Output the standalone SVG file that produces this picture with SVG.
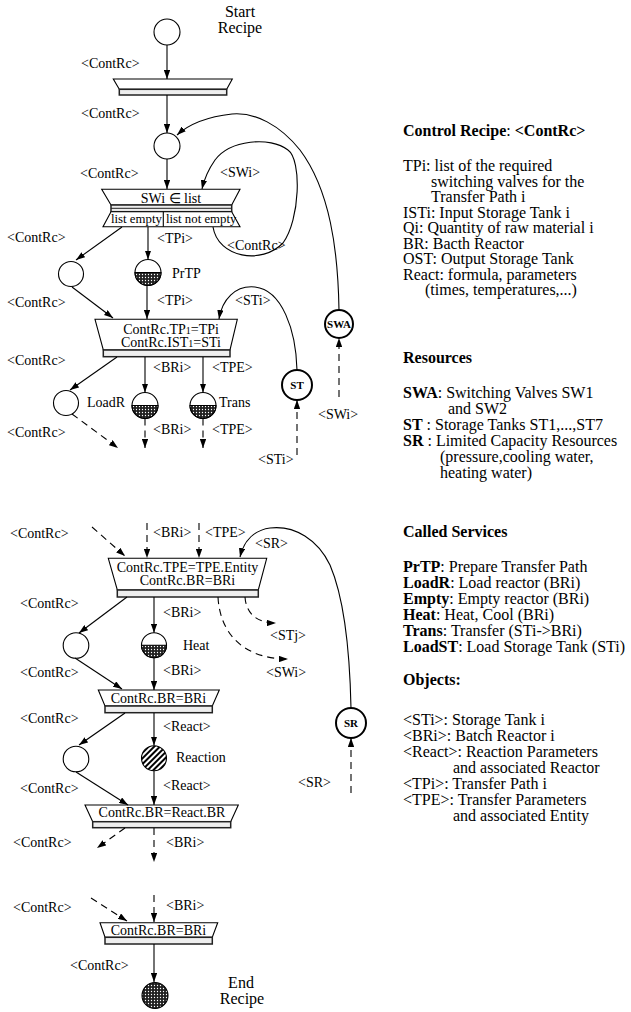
<svg xmlns="http://www.w3.org/2000/svg" width="631" height="1012" viewBox="0 0 631 1012">
<defs>
<style>
text{font-family:"Liberation Serif","Times New Roman",serif;font-size:14px;fill:#000}
.r{font-size:16px}
.big{font-size:16px}
.b{font-weight:bold}
.rs{font-size:11px;font-weight:bold;text-anchor:middle}
.m{text-anchor:middle}
.c{fill:#fff;stroke:#000;stroke-width:1.1}
.res{fill:#fff;stroke:#000;stroke-width:2}
.box{fill:#fff;stroke:#000;stroke-width:1.1}
.bar{fill:#eee;stroke:#222;stroke-width:1.5}
.ln{fill:none;stroke:#000;stroke-width:1.1;marker-end:url(#ah)}
.d{stroke-dasharray:7 5}
.hx{fill:url(#xh);stroke:#000;stroke-width:1.1}
</style>
<marker id="ah" viewBox="0 0 10 7" refX="10" refY="3.5" markerWidth="9" markerHeight="6.3" markerUnits="userSpaceOnUse" orient="auto"><path d="M0,0 L10,3.5 L0,7 z" fill="#000"/></marker>
<pattern id="xh" width="3" height="3" patternUnits="userSpaceOnUse"><rect width="3" height="3" fill="#222"/><circle cx="1.5" cy="1.5" r="0.65" fill="#fff"/></pattern>
<pattern id="dh" width="4" height="4" patternUnits="userSpaceOnUse" patternTransform="rotate(45)"><rect width="4" height="4" fill="#fff"/><rect width="2" height="4" fill="#000"/></pattern>
</defs>

<!-- Nodes -->
<g id="start"><circle class="c" cx="167" cy="32" r="13"/><text class="big m" x="240" y="17">Start</text><text class="big m" x="240" y="33">Recipe</text></g>
<g id="t1"><polygon class="box" points="113.3,79 232.3,79 226.7,89.3 119.3,89.3"/><rect class="bar" x="119.3" y="89.3" width="107.4" height="5.7"/></g>
<g id="c2"><circle class="c" cx="167" cy="146" r="13"/></g>
<g id="swi">
<polygon class="box" points="101.7,189.3 240,189.3 231.7,205 111,205"/>
<rect class="bar" x="111" y="205" width="120.7" height="6.7"/>
<line x1="111" y1="208.3" x2="231.7" y2="208.3" stroke="#222" stroke-width="1"/>
<polygon class="box" points="111,211.7 231.7,211.7 240,226.7 103,226.7"/>
<line x1="163.3" y1="211.7" x2="163.3" y2="226.7" stroke="#000" stroke-width="1.1"/>
<text class="m" x="171" y="203">SWi ∈ list</text>
<text x="111" y="223" style="font-size:12.8px">list empty</text>
<text x="166" y="223" style="font-size:12.8px">list not empty</text>
</g>
<g id="cL1"><circle class="c" cx="71" cy="274" r="12.5"/></g>
<g id="prtp"><circle class="c" cx="148" cy="272.5" r="13"/><path class="hx" d="M135,272.5 A13,13 0 0 0 161,272.5 Z"/><text x="172" y="278">PrTP</text></g>
<g id="b2"><polygon class="box" points="95,319.3 237.3,319.3 230,350 103.3,350"/><rect class="bar" x="103.3" y="350" width="126.7" height="6.7"/>
<text class="m" x="171" y="334">ContRc.TP<tspan style="font-size:10px">1</tspan>=TPi</text>
<text class="m" x="171" y="347">ContRc.IST<tspan style="font-size:10px">1</tspan>=STi</text></g>
<g id="cLoad"><circle class="c" cx="66" cy="403" r="12.5"/><text x="87" y="407">LoadR</text></g>
<g id="loadr"><circle class="c" cx="145" cy="405.5" r="13"/><path class="hx" d="M132,405.5 A13,13 0 0 0 158,405.5 Z"/></g>
<g id="trans"><circle class="c" cx="203" cy="405.5" r="13"/><path class="hx" d="M190,405.5 A13,13 0 0 0 216,405.5 Z"/><text x="219" y="407">Trans</text></g>
<g id="ST"><circle class="res" cx="297" cy="385" r="15"/><text class="rs" x="297" y="389">ST</text></g>
<g id="SWA"><circle class="res" cx="339" cy="324" r="14"/><text class="rs" x="339" y="328">SWA</text></g>

<g id="b3"><polygon class="box" points="108.3,558.3 266.7,558.3 258.3,590 117.3,590"/><rect class="bar" x="117.3" y="590" width="141" height="7"/>
<text class="m" x="187.5" y="572">ContRc.TPE=TPE.Entity</text><text class="m" x="187.5" y="585">ContRc.BR=BRi</text></g>
<g id="c4"><circle class="c" cx="76" cy="645.5" r="12.8"/></g>
<g id="heat"><circle class="c" cx="154" cy="645.2" r="12.5"/><path class="hx" d="M141.5,645.2 A12.5,12.5 0 0 0 166.5,645.2 Z"/><text x="183" y="650">Heat</text></g>
<g id="b4"><polygon class="box" points="98.3,690 219.3,690 212.3,706 105,706"/><rect class="bar" x="105" y="706" width="107.3" height="6.7"/><text class="m" x="158.5" y="703">ContRc.BR=BRi</text></g>
<g id="c5"><circle class="c" cx="76" cy="759" r="12.8"/></g>
<g id="reaction"><circle cx="154" cy="758.3" r="12.5" fill="url(#dh)" stroke="#000" stroke-width="1.1"/><text x="176" y="762">Reaction</text></g>
<g id="b5"><polygon class="box" points="85,805 238.3,805 230.7,821.7 92.7,821.7"/><rect class="bar" x="92.7" y="821.7" width="138" height="6"/><text class="m" x="162" y="817">ContRc.BR=React.BR</text></g>
<g id="SR"><circle class="res" cx="351" cy="723" r="15"/><text class="rs" x="351" y="727">SR</text></g>
<g id="b6"><polygon class="box" points="100,922.7 217.7,922.7 212.3,937.3 105,937.3"/><rect class="bar" x="105" y="937.3" width="107.3" height="6.7"/><text class="m" x="158.5" y="935">ContRc.BR=BRi</text></g>
<g id="end"><circle class="hx" cx="155" cy="995.5" r="13"/><text class="big m" x="241" y="988">End</text><text class="big m" x="242" y="1004">Recipe</text></g>

<!-- Connectors -->
<g id="connectors">
<path class="ln" d="M167,45 L167,79"/>
<path class="ln" d="M167,95 L167,133"/>
<path class="ln" d="M167,159 L167,189"/>
<path class="ln" d="M339,310 C338,250 330,190 300,150 C280,125 255,112 232,114 C205,117 188,125 177,135"/>
<path class="ln" d="M213,227 C218,258 262,265 283,243 C300,220 302,160 288,150 C270,136 230,140 215,160 C208,170 204,180 202,189"/>
<path class="ln" d="M122,227 L76,260"/>
<path class="ln" d="M148,227 L148,259.5"/>
<path class="ln" d="M72,287 L113,318"/>
<path class="ln" d="M147,285.5 L147,319"/>
<path class="ln" d="M297,370 C296,330 282,290 255,287 C235,285 222,300 219,319"/>
<path class="ln" d="M117,357 L70,390"/>
<path class="ln" d="M145,357 L145,392.5"/>
<path class="ln" d="M203,357 L203,392.5"/>
<path class="ln d" d="M72,414 L118,448"/>
<path class="ln d" d="M145,418.5 L145,448"/>
<path class="ln d" d="M203,418.5 L203,448"/>
<path class="ln d" d="M297,455 L297,400"/>
<path class="ln d" d="M339,397 L339,338"/>

<path class="ln d" d="M92,527 L125,556"/>
<path class="ln d" d="M147,523 L147,558"/>
<path class="ln d" d="M199,523 L199,558"/>
<path class="ln" d="M351,708 C350,660 345,600 330,565 C318,540 295,525 270,528 C255,530 244,540 240,557"/>
<path class="ln" d="M127,597 L79,633"/>
<path class="ln" d="M154,597 L154,632.7"/>
<path class="ln d" d="M245,597 C246,612 255,623 276,623"/>
<path class="ln d" d="M218,597 C220,635 245,659 288,659"/>
<path class="ln" d="M75,658 L122,689"/>
<path class="ln" d="M154,658 L154,690"/>
<path class="ln" d="M125,713 L79,745"/>
<path class="ln" d="M154,713 L154,745.5"/>
<path class="ln" d="M76,772 L128,805"/>
<path class="ln" d="M154,771 L154,805"/>
<path class="ln d" d="M351,793 L351,738"/>

<path class="ln d" d="M125,828 L97,848"/>
<path class="ln d" d="M154,828 L154,862"/>
<path class="ln d" d="M154,895 L154,922"/>
<path class="ln d" d="M91,898 L127,921"/>
<path class="ln" d="M154,944 L154,982"/>
</g>

<!-- Connector labels -->
<g id="labels">
<text x="81" y="68">&lt;ContRc&gt;</text>
<text x="81" y="118">&lt;ContRc&gt;</text>
<text x="80" y="178">&lt;ContRc&gt;</text>
<text x="220" y="177">&lt;SWi&gt;</text>
<text x="7" y="242">&lt;ContRc&gt;</text>
<text x="157" y="243">&lt;TPi&gt;</text>
<text x="227" y="250">&lt;ContRc&gt;</text>
<text x="7" y="307">&lt;ContRc&gt;</text>
<text x="157" y="305">&lt;TPi&gt;</text>
<text x="235" y="305">&lt;STi&gt;</text>
<text x="7" y="365">&lt;ContRc&gt;</text>
<text x="153" y="372">&lt;BRi&gt;</text>
<text x="212" y="372">&lt;TPE&gt;</text>
<text x="7" y="437">&lt;ContRc&gt;</text>
<text x="153" y="434">&lt;BRi&gt;</text>
<text x="212" y="434">&lt;TPE&gt;</text>
<text x="318" y="419">&lt;SWi&gt;</text>
<text x="258" y="464">&lt;STi&gt;</text>

<text x="10" y="538">&lt;ContRc&gt;</text>
<text x="153" y="537">&lt;BRi&gt;</text>
<text x="205" y="537">&lt;TPE&gt;</text>
<text x="255" y="548">&lt;SR&gt;</text>
<text x="20" y="608">&lt;ContRc&gt;</text>
<text x="163" y="617">&lt;BRi&gt;</text>
<text x="270" y="640">&lt;STj&gt;</text>
<text x="266" y="677">&lt;SWi&gt;</text>
<text x="20" y="677">&lt;ContRc&gt;</text>
<text x="163" y="675">&lt;BRi&gt;</text>
<text x="20" y="723">&lt;ContRc&gt;</text>
<text x="163" y="731">&lt;React&gt;</text>
<text x="20" y="793">&lt;ContRc&gt;</text>
<text x="163" y="790">&lt;React&gt;</text>
<text x="298" y="787">&lt;SR&gt;</text>

<text x="13" y="847">&lt;ContRc&gt;</text>
<text x="166" y="847">&lt;BRi&gt;</text>
<text x="13" y="912">&lt;ContRc&gt;</text>
<text x="166" y="910">&lt;BRi&gt;</text>
<text x="70" y="970">&lt;ContRc&gt;</text>
</g>

<!-- Legend -->
<g id="legend" class="r">
<text class="r" x="403" y="136"><tspan class="b">Control Recipe</tspan>: <tspan class="b">&lt;ContRc&gt;</tspan></text>
<text class="r" x="403" y="171">TPi: list of the required</text>
<text class="r" x="431" y="186.5">switching valves for the</text>
<text class="r" x="431" y="202">Transfer Path i</text>
<text class="r" x="403" y="217.5">ISTi: Input Storage Tank i</text>
<text class="r" x="403" y="233">Qi: Quantity of raw material i</text>
<text class="r" x="403" y="248.5">BR: Bacth Reactor</text>
<text class="r" x="403" y="264">OST: Output Storage Tank</text>
<text class="r" x="403" y="279.5">React: formula, parameters</text>
<text class="r" x="425" y="295">(times, temperatures,...)</text>

<text class="r b" x="403" y="363">Resources</text>
<text class="r" x="403" y="398"><tspan class="b">SWA</tspan>: Switching Valves SW1</text>
<text class="r" x="448" y="414">and SW2</text>
<text class="r" x="403" y="430"><tspan class="b">ST</tspan> : Storage Tanks ST1,...,ST7</text>
<text class="r" x="403" y="446"><tspan class="b">SR</tspan> : Limited Capacity Resources</text>
<text class="r" x="440" y="462">(pressure,cooling water,</text>
<text class="r" x="440" y="478">heating water)</text>

<text class="r b" x="403" y="537">Called Services</text>
<text class="r" x="403" y="572"><tspan class="b">PrTP</tspan>: Prepare Transfer Path</text>
<text class="r" x="403" y="588"><tspan class="b">LoadR</tspan>: Load reactor (BRi)</text>
<text class="r" x="403" y="604"><tspan class="b">Empty</tspan>: Empty reactor (BRi)</text>
<text class="r" x="403" y="620"><tspan class="b">Heat</tspan>: Heat, Cool (BRi)</text>
<text class="r" x="403" y="636"><tspan class="b">Trans</tspan>: Transfer (STi-&gt;BRi)</text>
<text class="r" x="403" y="652"><tspan class="b">LoadST</tspan>: Load Storage Tank (STi)</text>

<text class="r b" x="403" y="685">Objects:</text>
<text class="r" x="403" y="725">&lt;STi&gt;: Storage Tank i</text>
<text class="r" x="403" y="741">&lt;BRi&gt;: Batch Reactor i</text>
<text class="r" x="403" y="757">&lt;React&gt;: Reaction Parameters</text>
<text class="r" x="453" y="773">and associated Reactor</text>
<text class="r" x="403" y="789">&lt;TPi&gt;: Transfer Path i</text>
<text class="r" x="403" y="805">&lt;TPE&gt;: Transfer Parameters</text>
<text class="r" x="453" y="821">and associated Entity</text>
</g>
</svg>
